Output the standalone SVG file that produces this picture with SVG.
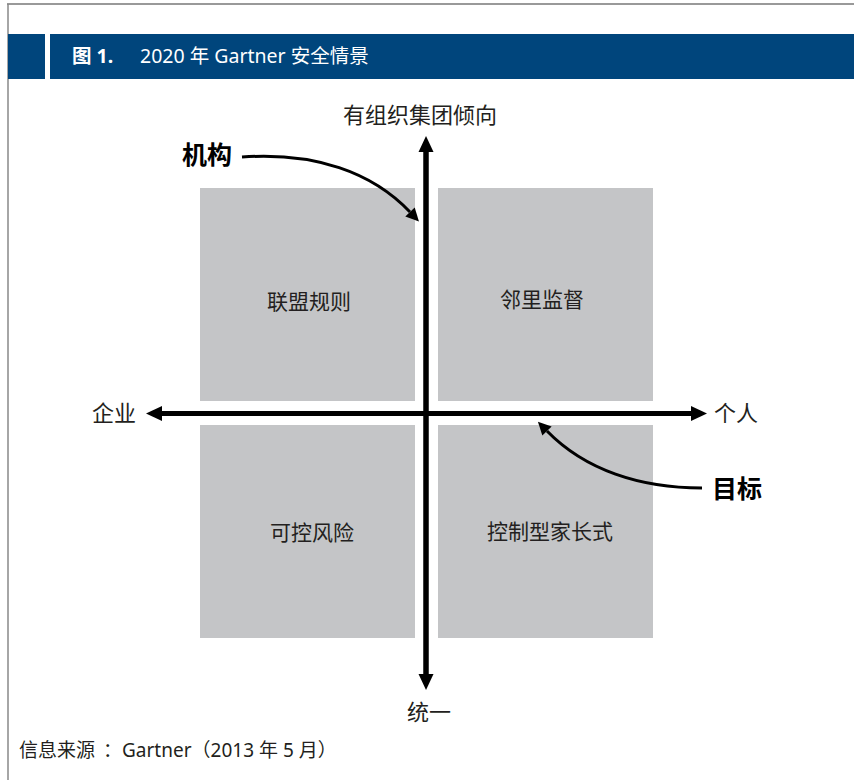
<svg xmlns="http://www.w3.org/2000/svg" width="854" height="780" viewBox="0 0 854 780">
<style>
.t{font-family:"Noto Sans","Noto Sans CJK SC",sans-serif;fill:#231f20;}
.q{font-size:21px;text-anchor:middle;}
.ax{font-size:22px;}
.b{font-size:25px;font-weight:bold;fill:#000;}
.h{font-family:"Noto Sans","Noto Sans CJK SC",sans-serif;fill:#fff;font-size:19.5px;}
.box{fill:#c4c5c7;}
.axis{stroke:#000;stroke-width:5;fill:none;}
.cur{stroke:#000;stroke-width:3;fill:none;}
</style>
<defs>
<marker id="ah" markerUnits="userSpaceOnUse" markerWidth="16" markerHeight="16" refX="0" refY="7.5" orient="auto" overflow="visible">
<path d="M0,0 L16,7.5 L0,15 Z" fill="#000"/>
</marker>
<marker id="ch" markerUnits="userSpaceOnUse" markerWidth="14" markerHeight="14" refX="0" refY="6.5" orient="auto" overflow="visible">
<path d="M0,0 L13,6.5 L0,13 Z" fill="#000"/>
</marker>
</defs>
<rect width="854" height="780" fill="#fff"/>
<g id="frame">
<line x1="7" y1="4" x2="854" y2="4" stroke="#777" stroke-width="1.5"/>
<line x1="8" y1="4" x2="8" y2="780" stroke="#888" stroke-width="1.5"/>
</g>
<g id="header">
<rect x="8" y="34" width="37" height="45" fill="#00457c"/>
<rect x="50" y="34" width="804" height="45" fill="#00457c"/>
<text class="h" x="72" y="63"><tspan font-weight="bold">图 1.</tspan><tspan x="140">2020 年 Gartner 安全情景</tspan></text>
</g>
<g id="q1"><rect class="box" x="200" y="188" width="215" height="213"/><text class="t q" x="309" y="309">联盟规则</text></g>
<g id="q2"><rect class="box" x="438" y="188" width="215" height="213"/><text class="t q" x="542" y="307">邻里监督</text></g>
<g id="q3"><rect class="box" x="200" y="425" width="215" height="213"/><text class="t q" x="312" y="540">可控风险</text></g>
<g id="q4"><rect class="box" x="438" y="425" width="215" height="213"/><text class="t q" x="550" y="539">控制型家长式</text></g>
<g id="connectors">
<line class="axis" x1="426" y1="674" x2="426" y2="152" marker-end="url(#ah)"/>
<line class="axis" x1="426" y1="152" x2="426" y2="674" marker-end="url(#ah)"/>
<line class="axis" x1="426" y1="413.5" x2="162" y2="413.5" marker-end="url(#ah)"/>
<line class="axis" x1="426" y1="413.5" x2="691" y2="413.5" marker-end="url(#ah)"/>
<path class="cur" d="M242,157 C315,152 372,172 410,212" marker-end="url(#ch)"/>
<path class="cur" d="M702,488 C640,488 585,470 547,431" marker-end="url(#ch)"/>
</g>
<g id="labels">
<text class="t ax" x="420" y="123" text-anchor="middle">有组织集团倾向</text>
<text class="t ax" x="429" y="720" text-anchor="middle">统一</text>
<text class="t ax" x="92" y="421">企业</text>
<text class="t ax" x="714" y="421">个人</text>
<text class="t b" x="182" y="164">机构</text>
<text class="t b" x="712" y="498">目标</text>
</g>
<g id="footer">
<text class="t" x="19" y="757" font-size="19" fill="#333">信息来源<tspan dx="8">：</tspan><tspan>Gartner（2013 年 5 月）</tspan></text>
</g>
</svg>
